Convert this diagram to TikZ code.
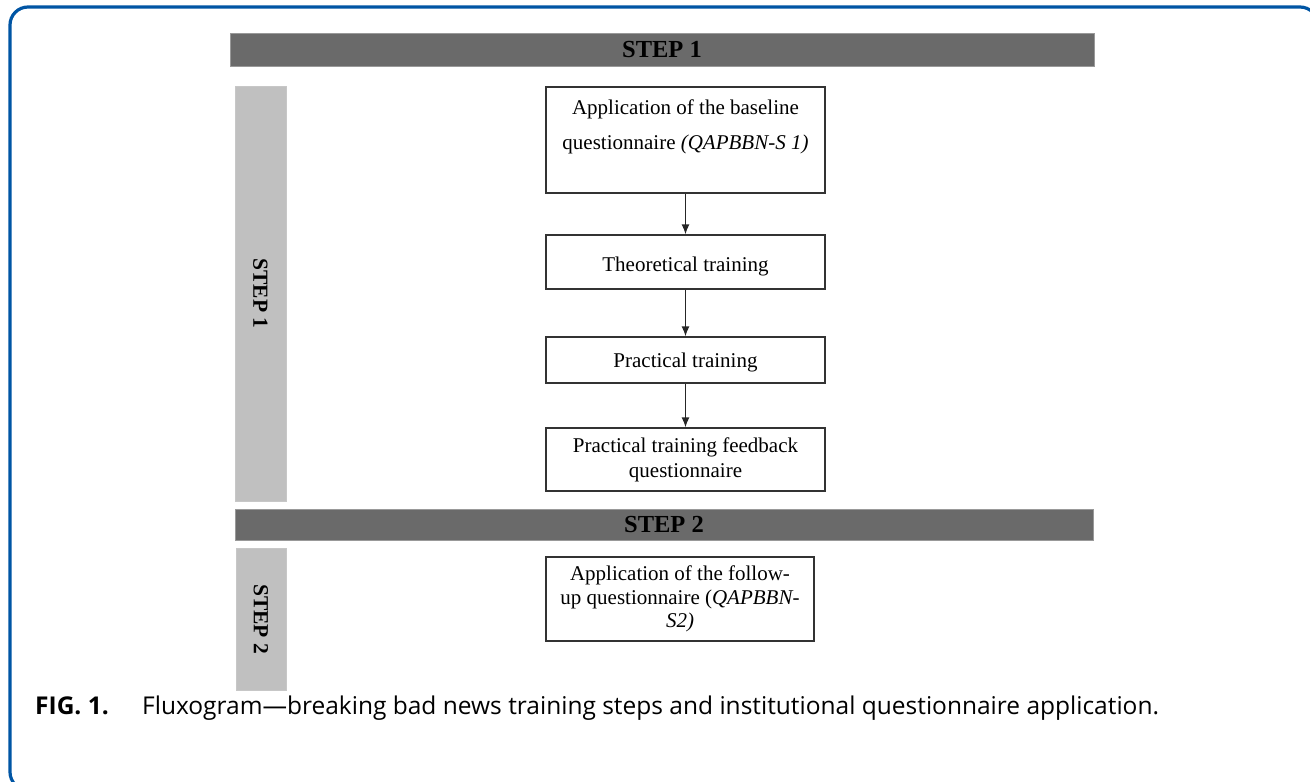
\documentclass[tikz,border=0pt]{standalone}
\usepackage{fontspec}
\setmainfont{Liberation Serif}
\newfontfamily\capfont{Open Sans}
\usetikzlibrary{arrows.meta}
\definecolor{frameblue}{HTML}{0055A4}
\definecolor{bardark}{HTML}{6A6A6A}
\definecolor{barlight}{HTML}{C0C0C0}
\begin{document}
\begin{tikzpicture}[x=1pt,y=-1pt,
  flowbox/.style={draw=black!80, line width=1.3pt, fill=white, inner sep=0pt},
  boxtext/.style={align=center, inner sep=0pt, font=\fontsize{21}{25}\selectfont},
  hbar/.style={fill=bardark, draw=black!40, line width=0.8pt, inner sep=0pt,
    font=\fontsize{24.5}{28}\selectfont\bfseries},
  vbar/.style={fill=barlight, draw=black!22, line width=0.6pt, inner sep=0pt,
    rotate=-90, font=\fontsize{21.5}{25}\selectfont\bfseries},
  flow/.style={-{Latex[length=10pt,width=8pt]}, line width=1.3pt, black!85},
  captext/.style={anchor=base west, inner sep=0pt, font=\capfont\fontsize{24.5}{28}\selectfont}]
\useasboundingbox (0,0) rectangle (1310,782);
\begin{scope}
  \clip (0,0) rectangle (1310,782);
  \draw[frameblue, line width=3.2pt, rounded corners=18pt] (10,7) rectangle (1318,790);
\end{scope}

% bars
\node[hbar, minimum width=864pt, minimum height=33pt] (bar1) at (662,49.5) {STEP 1};
\node[hbar, minimum width=858pt, minimum height=31pt] (bar2) at (664,524.5) {STEP 2};
\node[vbar, minimum width=415pt, minimum height=51pt] (side1) at (260.5,293.5) {STEP 1};
\node[vbar, minimum width=142pt, minimum height=50pt] (side2) at (261,619) {STEP 2};

% boxes
\node[flowbox, minimum width=279pt, minimum height=106pt] (b1) at (685.5,140) {};
\node[boxtext, font=\fontsize{21}{35}\selectfont, anchor=north] (b1t) at ([yshift=-13pt]b1.north)
  {Application of the baseline\\questionnaire \textit{(QAPBBN-S 1)}};
\node[flowbox, minimum width=279pt, minimum height=54pt] (b2) at (685.5,262) {};
\node[boxtext] (b2t) at ([yshift=-4pt]b2.center) {Theoretical training};
\node[flowbox, minimum width=279pt, minimum height=46pt] (b3) at (685.5,360) {};
\node[boxtext] (b3t) at ([yshift=-2pt]b3.center) {Practical training};
\node[flowbox, minimum width=279pt, minimum height=63pt] (b4) at (685.5,459.5) {};
\node[boxtext] (b4t) at ([yshift=0pt]b4.center) {Practical training feedback\\questionnaire};
\node[flowbox, minimum width=268pt, minimum height=84pt] (b5) at (680,599) {};
\node[boxtext, font=\fontsize{21}{23.5}\selectfont] (b5t) at ([yshift=0pt]b5.center)
  {Application of the follow-\\up questionnaire (\textit{QAPBBN-}\\\textit{S2)}};

% arrows
\draw[flow] (b1.south) -- (b2.north);
\draw[flow] (b2.south) -- (b3.north);
\draw[flow] (b3.south) -- (b4.north);

% caption
\node[captext] (capl) at (35,714) {\textbf{FIG. 1.}};
\node[captext] (capt) at (142,714) {Fluxogram—breaking bad news training steps and institutional questionnaire application.};
\end{tikzpicture}
\end{document}
